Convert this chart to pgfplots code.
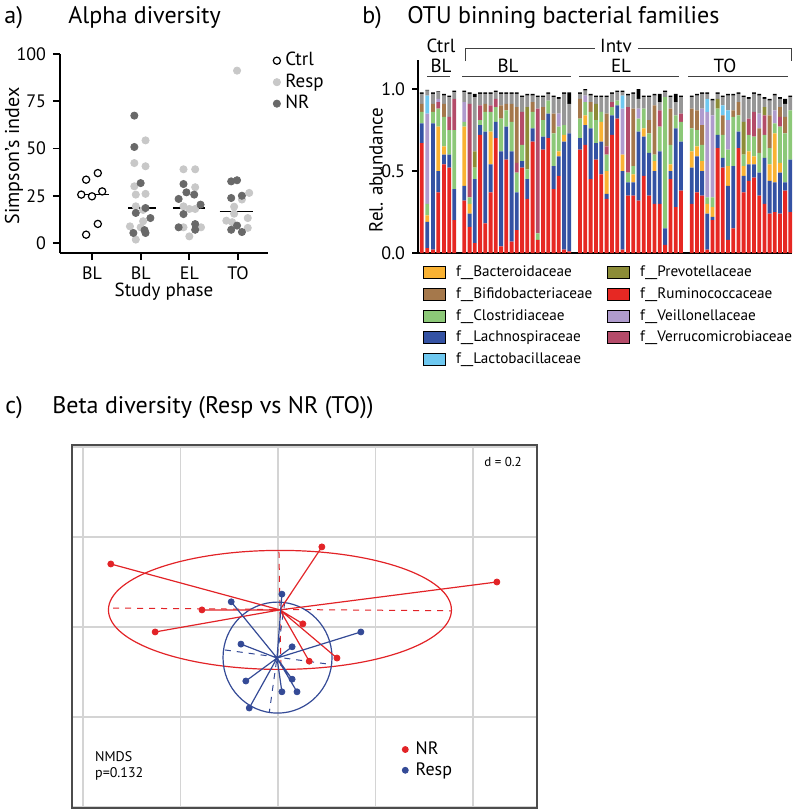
\documentclass[border=0pt]{standalone}
\usepackage{fontspec}
\setmainfont{PT Sans}
\usepackage{pgfplots}
\usepackage{pgfplotstable}
\pgfplotsset{compat=1.18}

\definecolor{cR}{RGB}{230,40,35}
\definecolor{cL}{RGB}{52,82,163}
\definecolor{cB}{RGB}{249,178,51}
\definecolor{cC}{RGB}{140,200,120}
\definecolor{cVe}{RGB}{180,75,105}
\definecolor{cP}{RGB}{140,140,55}
\definecolor{cBi}{RGB}{165,120,75}
\definecolor{cV}{RGB}{175,155,205}
\definecolor{cLb}{RGB}{110,200,240}
\definecolor{cO}{RGB}{150,150,150}
\definecolor{dotLight}{RGB}{200,200,200}
\definecolor{dotDark}{RGB}{105,105,105}
\definecolor{nmR}{RGB}{226,35,39}
\definecolor{nmB}{RGB}{52,74,150}

\pgfplotstableread{
x R L B C Ve P Bi V Lb O K
421.7 0.67 0.12 0.00 0.07 0.00 0.00 0.05 0.00 0.00 0.06 0.01
427.3 0.03 0.16 0.04 0.07 0.00 0.00 0.00 0.55 0.11 0.03 0.005
433.0 0.02 0.77 0.00 0.07 0.00 0.00 0.05 0.00 0.00 0.06 0.01
438.3 0.37 0.13 0.27 0.11 0.04 0.00 0.00 0.02 0.00 0.04 0.005
444.0 0.54 0.06 0.05 0.18 0.00 0.00 0.08 0.00 0.00 0.05 0.01
449.3 0.52 0.08 0.00 0.15 0.08 0.00 0.00 0.00 0.00 0.12 0.01
454.3 0.20 0.19 0.00 0.36 0.19 0.00 0.00 0.00 0.00 0.04 0.01
464.3 0.32 0.09 0.36 0.03 0.00 0.00 0.00 0.12 0.00 0.06 0.01
469.6 0.16 0.08 0.06 0.04 0.57 0.00 0.00 0.00 0.00 0.06 0.01
474.8 0.06 0.39 0.00 0.07 0.00 0.10 0.00 0.00 0.00 0.33 0.02
480.1 0.72 0.06 0.00 0.03 0.09 0.00 0.00 0.00 0.00 0.07 0.01
485.3 0.18 0.56 0.00 0.12 0.00 0.00 0.05 0.00 0.00 0.06 0.01
490.6 0.37 0.17 0.20 0.12 0.04 0.00 0.00 0.00 0.00 0.07 0.01
495.8 0.70 0.10 0.00 0.09 0.05 0.00 0.00 0.00 0.00 0.04 0.01
501.1 0.04 0.58 0.00 0.20 0.00 0.00 0.08 0.00 0.00 0.07 0.01
506.3 0.57 0.20 0.00 0.10 0.00 0.00 0.04 0.00 0.00 0.06 0.01
511.6 0.07 0.55 0.00 0.18 0.00 0.00 0.11 0.00 0.00 0.06 0.01
516.8 0.14 0.23 0.00 0.12 0.06 0.00 0.34 0.00 0.00 0.08 0.01
522.1 0.52 0.04 0.00 0.10 0.20 0.00 0.00 0.00 0.00 0.09 0.01
527.3 0.33 0.12 0.00 0.06 0.00 0.38 0.00 0.00 0.00 0.07 0.01
532.6 0.68 0.08 0.00 0.10 0.00 0.00 0.06 0.00 0.00 0.04 0.01
537.8 0.08 0.00 0.00 0.04 0.76 0.00 0.00 0.00 0.00 0.07 0.01
543.1 0.63 0.08 0.00 0.10 0.00 0.00 0.08 0.00 0.00 0.06 0.01
548.3 0.70 0.15 0.00 0.08 0.00 0.00 0.00 0.00 0.00 0.04 0.01
553.6 0.39 0.14 0.00 0.20 0.00 0.00 0.12 0.00 0.00 0.10 0.01
558.8 0.47 0.12 0.03 0.15 0.00 0.00 0.00 0.08 0.00 0.09 0.01
564.1 0.02 0.66 0.04 0.06 0.00 0.00 0.00 0.00 0.00 0.19 0.01
569.3 0.01 0.72 0.00 0.00 0.00 0.00 0.00 0.00 0.00 0.18 0.07
580.0 0.63 0.07 0.00 0.12 0.00 0.00 0.12 0.00 0.00 0.03 0.01
585.3 0.66 0.12 0.06 0.08 0.00 0.00 0.00 0.04 0.00 0.03 0.01
590.6 0.45 0.31 0.00 0.10 0.00 0.00 0.06 0.00 0.00 0.04 0.01
596.0 0.57 0.10 0.00 0.14 0.00 0.10 0.00 0.00 0.00 0.04 0.01
601.3 0.48 0.20 0.12 0.06 0.00 0.00 0.00 0.00 0.00 0.09 0.01
606.6 0.33 0.03 0.14 0.10 0.05 0.00 0.20 0.00 0.00 0.10 0.01
611.9 0.72 0.12 0.00 0.05 0.03 0.00 0.00 0.00 0.00 0.05 0.01
617.2 0.82 0.08 0.00 0.03 0.00 0.00 0.00 0.00 0.00 0.05 0.01
622.5 0.02 0.48 0.10 0.00 0.00 0.00 0.00 0.28 0.08 0.02 0.01
627.9 0.35 0.08 0.00 0.06 0.40 0.00 0.00 0.00 0.00 0.07 0.01
633.2 0.35 0.08 0.05 0.05 0.00 0.00 0.35 0.00 0.00 0.09 0.01
638.5 0.32 0.42 0.00 0.08 0.00 0.00 0.00 0.06 0.00 0.06 0.06
643.8 0.47 0.24 0.05 0.12 0.00 0.00 0.00 0.00 0.00 0.07 0.01
649.1 0.35 0.26 0.00 0.12 0.00 0.00 0.08 0.00 0.00 0.14 0.01
654.4 0.30 0.20 0.06 0.04 0.00 0.00 0.30 0.00 0.00 0.06 0.01
659.7 0.30 0.32 0.00 0.15 0.10 0.00 0.00 0.00 0.00 0.05 0.05
665.1 0.05 0.10 0.00 0.80 0.00 0.00 0.00 0.00 0.00 0.03 0.01
670.4 0.45 0.05 0.04 0.12 0.00 0.00 0.22 0.00 0.00 0.07 0.01
675.7 0.28 0.48 0.00 0.08 0.00 0.00 0.00 0.00 0.00 0.08 0.05
681.0 0.38 0.30 0.00 0.12 0.05 0.00 0.00 0.00 0.00 0.10 0.01
691.7 0.30 0.22 0.10 0.14 0.00 0.00 0.12 0.00 0.00 0.07 0.01
696.9 0.37 0.22 0.06 0.10 0.00 0.00 0.12 0.00 0.00 0.09 0.01
702.1 0.35 0.15 0.06 0.10 0.00 0.00 0.12 0.10 0.00 0.09 0.01
707.3 0.02 0.22 0.06 0.04 0.00 0.00 0.00 0.52 0.08 0.03 0.01
712.5 0.20 0.02 0.06 0.06 0.00 0.00 0.00 0.50 0.00 0.09 0.01
717.6 0.64 0.08 0.00 0.16 0.00 0.06 0.00 0.00 0.00 0.03 0.01
722.8 0.52 0.06 0.00 0.14 0.00 0.00 0.12 0.00 0.06 0.05 0.01
728.0 0.08 0.33 0.12 0.10 0.00 0.00 0.00 0.18 0.06 0.09 0.01
733.2 0.15 0.38 0.00 0.30 0.00 0.00 0.04 0.00 0.00 0.09 0.01
738.4 0.64 0.10 0.00 0.10 0.00 0.00 0.08 0.00 0.00 0.05 0.01
743.6 0.37 0.10 0.06 0.07 0.00 0.20 0.00 0.00 0.00 0.15 0.01
748.8 0.44 0.10 0.08 0.10 0.10 0.00 0.00 0.00 0.00 0.12 0.01
754.0 0.46 0.08 0.05 0.12 0.15 0.00 0.00 0.00 0.00 0.11 0.01
759.2 0.35 0.14 0.00 0.12 0.00 0.00 0.15 0.09 0.00 0.11 0.01
764.4 0.30 0.28 0.00 0.14 0.12 0.05 0.00 0.00 0.00 0.05 0.01
769.6 0.24 0.20 0.10 0.10 0.00 0.00 0.20 0.00 0.00 0.09 0.01
774.7 0.25 0.18 0.30 0.06 0.00 0.00 0.00 0.08 0.00 0.09 0.01
779.9 0.24 0.25 0.06 0.22 0.06 0.00 0.06 0.00 0.00 0.05 0.01
785.1 0.38 0.05 0.00 0.30 0.00 0.00 0.10 0.00 0.00 0.08 0.03
790.3 0.25 0.32 0.00 0.30 0.00 0.00 0.00 0.00 0.00 0.08 0.01
}\bartab

\newcommand{\ttl}{\fontsize{12}{14}\selectfont}
\newcommand{\lbl}{\fontsize{9.5}{11}\selectfont}
\newcommand{\tck}{\fontsize{9}{10}\selectfont}

\begin{document}
\begin{tikzpicture}
\useasboundingbox (0,0) rectangle (400pt,-405pt);

% ---------------- panel a
\begin{axis}[
  at={(30pt,-126.5pt)}, anchor=south west, scale only axis,
  width=104pt, height=99.5pt,
  xmin=-0.657, xmax=3.616, ymin=-5.3, ymax=100,
  axis x line=bottom, axis y line=left,
  axis line style={-, line width=1pt},
  xtick={0,1,2,3}, xticklabels={BL,BL,EL,TO},
  ytick={0,25,50,75,100},
  tick align=outside, major tick length=3.5pt,
  tick style={black, line width=0.9pt},
  tick label style={font=\tck},
  /pgf/number format/assume math mode=true,
  clip=false,
  legend style={at={(1.01,1.03)}, anchor=north west, draw=none, fill=none,
    font=\lbl, inner sep=0pt, row sep=-1.5pt},
  legend cell align=left,
  legend image code/.code={\draw[#1] plot coordinates {(3pt,0pt)}; \path (0pt,0pt) (5pt,0pt);},
]
\addplot[only marks, mark=*, mark size=1.8pt, mark options={fill=white, draw=black, line width=0.6pt}]
  coordinates {(-0.12,33.5) (0.12,37.0) (-0.22,25.6) (0,24.7) (0.21,27.3) (-0.12,4.4) (0.12,10.1)};
\addlegendentry{Ctrl}
\addplot[only marks, mark=*, mark size=1.8pt, color=dotLight]
  coordinates {(1.10,54.3) (0.87,42.3) (1.10,40.6) (0.87,30.0) (0.90,25.6) (1.10,26.0) (0.90,19.4) (1.05,17.5) (1.05,11.5) (0.78,8.8) (1.00,8.3) (0.90,1.8)
   (1.88,39.0) (2.12,39.0) (2.12,29.5) (1.88,19.4) (2.00,18.0) (2.12,18.0) (1.88,8.3) (2.24,8.3) (2.00,3.5)
   (2.98,91.2) (2.92,19.2) (3.23,26.5) (3.08,23.0) (2.76,11.8) (2.88,11.0) (3.20,13.2) (3.20,8.0) (2.92,15.5)};
\addlegendentry{Resp}
\addplot[only marks, mark=*, mark size=1.8pt, color=dotDark]
  coordinates {(0.87,67.4) (0.87,50.8) (1.00,31.7) (1.10,18.5) (0.90,15.9) (1.20,13.2) (0.85,5.3) (1.10,5.3) (1.08,6.8)
   (1.88,31.2) (1.94,26.8) (2.10,25.6) (1.78,23.3) (2.23,20.3) (1.88,15.3) (1.78,8.3) (2.12,10.0) (2.12,7.0)
   (2.86,32.6) (2.98,33.2) (2.86,23.8) (3.08,25.0) (2.98,9.2) (2.86,7.0) (3.08,5.8)};
\addlegendentry{NR}
\addplot[black, line width=0.6pt, forget plot] coordinates {(-0.31,25.6) (0.34,25.6)};
\addplot[black, line width=0.6pt, forget plot] coordinates {(0.75,18.5) (1.31,18.5)};
\addplot[black, line width=0.6pt, forget plot] coordinates {(1.66,18.5) (2.32,18.5)};
\addplot[black, line width=0.6pt, forget plot] coordinates {(2.62,16.6) (3.31,16.6)};
\end{axis}

% ---------------- panel b bars
\begin{axis}[
  at={(209pt,-126.5pt)}, anchor=south west, scale only axis,
  width=187pt, height=96.5pt,
  xmin=418, xmax=792, ymin=0, ymax=1.177,
  ybar stacked, bar width=3.8,
  axis x line=bottom, axis y line=left,
  axis line style={-, line width=0.9pt},
  xtick=\empty, ytick={0,0.5,1}, yticklabels={0.0,0.5,1.0},
  tick align=outside, major tick length=3pt,
  tick style={black, line width=0.9pt},
  tick label style={font=\tck},
]
\addplot[fill=cR, draw=none] table[x=x, y=R] {\bartab};
\addplot[fill=cL, draw=none] table[x=x, y=L] {\bartab};
\addplot[fill=cB, draw=none] table[x=x, y=B] {\bartab};
\addplot[fill=cC, draw=none] table[x=x, y=C] {\bartab};
\addplot[fill=cVe, draw=none] table[x=x, y=Ve] {\bartab};
\addplot[fill=cP, draw=none] table[x=x, y=P] {\bartab};
\addplot[fill=cBi, draw=none] table[x=x, y=Bi] {\bartab};
\addplot[fill=cV, draw=none] table[x=x, y=V] {\bartab};
\addplot[fill=cLb, draw=none] table[x=x, y=Lb] {\bartab};
\addplot[fill=cO, draw=none] table[x=x, y=O] {\bartab};
\addplot[fill=black, draw=none] table[x=x, y=K] {\bartab};
\end{axis}

% ---------------- panel b legend (empty axis)
\begin{axis}[
  at={(209pt,-126.5pt)}, anchor=south west, scale only axis,
  width=187pt, height=96.5pt,
  xmin=0, xmax=1, ymin=0, ymax=1, hide axis,
  legend columns=2,
  legend style={at={(0.013,-0.051)}, anchor=north west, draw=none, fill=none,
    font=\fontsize{7.6}{9}\selectfont, inner sep=0pt, row sep=1.2pt,
    nodes={inner xsep=5pt, inner ysep=1pt, text height=5.8pt, text depth=1.8pt},
    /tikz/every even column/.append style={column sep=2.5pt}},
  legend cell align=left,
  legend image code/.code={\fill[#1] (0pt,-3pt) rectangle (11pt,3pt);},
]
\addlegendimage{fill=cB}\addlegendentry{f\_\_Bacteroidaceae}
\addlegendimage{fill=cP}\addlegendentry{f\_\_Prevotellaceae}
\addlegendimage{fill=cBi}\addlegendentry{f\_\_Bifidobacteriaceae}
\addlegendimage{fill=cR}\addlegendentry{f\_\_Ruminococcaceae}
\addlegendimage{fill=cC}\addlegendentry{f\_\_Clostridiaceae}
\addlegendimage{fill=cV}\addlegendentry{f\_\_Veillonellaceae}
\addlegendimage{fill=cL}\addlegendentry{f\_\_Lachnospiraceae}
\addlegendimage{fill=cVe}\addlegendentry{f\_\_Verrucomicrobiaceae}
\addlegendimage{fill=cLb}\addlegendentry{f\_\_Lactobacillaceae}
\end{axis}

% ---------------- panel c
\begin{axis}[
  at={(36pt,-404pt)}, anchor=south west, scale only axis,
  width=232.5pt, height=181.5pt,
  xmin=-0.4226, xmax=0.5313, ymin=-0.4022, ymax=0.4044,
  xtick={-0.4,-0.2,0,0.2,0.4}, ytick={-0.4,-0.2,0,0.2,0.4},
  xticklabels={}, yticklabels={}, major tick length=0pt,
  grid=major, grid style={line width=0.6pt, color=black!17},
  axis line style={line width=0.8pt, color=black!70},
  unbounded coords=jump,
  legend style={at={(0.70,0.195)}, anchor=north west, draw=none, fill=none,
    font=\fontsize{9}{10}\selectfont, inner sep=0pt, row sep=-1.5pt},
  legend cell align=left,
  legend image code/.code={\draw[#1] plot coordinates {(3.5pt,0pt)}; \path (0pt,0pt) (6.5pt,0pt);},
]
\addlegendimage{only marks, mark=*, mark size=1.5pt, color=nmR}\addlegendentry{NR}
\addlegendimage{only marks, mark=*, mark size=1.5pt, color=nmB}\addlegendentry{Resp}
% dashed axes
\addplot[nmR, dashed, line width=0.5pt, forget plot] coordinates {(-0.338,0.042) (0.355,0.036)};
\addplot[nmR, dashed, line width=0.5pt, forget plot] coordinates {(0.002,0.167) (0.006,-0.096)};
\addplot[nmB, dashed, line width=0.5pt, forget plot] coordinates {(-0.109,-0.051) (0.100,-0.082)};
\addplot[nmB, dashed, line width=0.5pt, forget plot] coordinates {(0.014,0.056) (-0.018,-0.191)};
% ellipses
\draw[nmR, line width=0.6pt] (axis cs:0.004,0.038) ellipse [x radius=85.75pt, y radius=29.75pt];
\draw[nmB, line width=0.6pt] (axis cs:-0.001,-0.068) ellipse [x radius=27.25pt, y radius=27.75pt];
% spiders
\addplot[nmR, line width=0.6pt, forget plot] coordinates {
 (-0.343,0.140) (0.004,0.038) (nan,nan)
 (0.090,0.178) (0.004,0.038) (nan,nan)
 (0.449,0.100) (0.004,0.038) (nan,nan)
 (-0.156,0.038) (0.004,0.038) (nan,nan)
 (-0.252,-0.011) (0.004,0.038) (nan,nan)
 (0.051,0.007) (0.004,0.038) (nan,nan)
 (0.064,-0.076) (0.004,0.038) (nan,nan)
 (0.121,-0.069) (0.004,0.038)};
\addplot[nmB, line width=0.6pt, forget plot] coordinates {
 (0.008,0.073) (-0.002,-0.069) (nan,nan)
 (-0.096,0.056) (-0.002,-0.069) (nan,nan)
 (-0.076,-0.038) (-0.002,-0.069) (nan,nan)
 (0.029,-0.044) (-0.002,-0.069) (nan,nan)
 (0.170,-0.011) (-0.002,-0.069) (nan,nan)
 (-0.066,-0.120) (-0.002,-0.069) (nan,nan)
 (0.029,-0.116) (-0.002,-0.069) (nan,nan)
 (0.008,-0.144) (-0.002,-0.069) (nan,nan)
 (0.039,-0.144) (-0.002,-0.069) (nan,nan)
 (-0.059,-0.180) (-0.002,-0.069)};
\addplot[only marks, mark=*, mark size=1.5pt, color=nmR, forget plot] coordinates {
 (-0.343,0.140) (0.090,0.178) (0.449,0.100) (-0.156,0.038) (-0.252,-0.011) (0.051,0.007) (0.064,-0.076) (0.121,-0.069)};
\addplot[only marks, mark=*, mark size=1.5pt, color=nmB, forget plot] coordinates {
 (0.008,0.073) (-0.096,0.056) (-0.076,-0.038) (0.029,-0.044) (0.170,-0.011) (-0.066,-0.120) (0.029,-0.116) (0.008,-0.144) (0.039,-0.144) (-0.059,-0.180)};
\node[font=\fontsize{6.5}{8}\selectfont] at (rel axis cs:0.927,0.953) {d = 0.2};
\node[anchor=west, align=left, font=\fontsize{7}{8}\selectfont, inner sep=0pt] at (rel axis cs:0.049,0.116) {NMDS\\p=0.132};
\end{axis}

% ---------------- annotations
\begin{scope}[x=0.5pt, y=-0.5pt]
\node[anchor=base west, inner sep=0pt, font=\ttl] at (4,23) {a)};
\node[anchor=base west, inner sep=0pt, font=\ttl] at (68,23) {Alpha diversity};
\node[anchor=base west, inner sep=0pt, font=\ttl] at (362,23) {b)};
\node[anchor=base west, inner sep=0pt, font=\ttl] at (407,23) {OTU binning bacterial families};
\node[anchor=base west, inner sep=0pt, font=\ttl] at (5,413) {c)};
\node[anchor=base west, inner sep=0pt, font=\ttl] at (52,413) {Beta diversity (Resp vs NR (TO))};
\node[rotate=90, font=\fontsize{10}{11}\selectfont] at (14,156) {Simpson’s index};
\node[font=\lbl] at (164,292) {Study phase};
\node[rotate=90, font=\lbl] at (376,170) {Rel. abundance};
% bar group labels
\node[font=\lbl] at (441,46) {Ctrl};
\node[font=\lbl] at (441,66) {BL};
\node[font=\lbl] at (616,46) {Intv};
\node[font=\lbl] at (508,66) {BL};
\node[font=\lbl] at (621,66) {EL};
\node[font=\lbl] at (725,66) {TO};
\draw[black!75, line width=0.5pt] (427,76.5) -- (450,76.5);
\draw[black!75, line width=0.5pt] (462,76.5) -- (571,76.5);
\draw[black!75, line width=0.5pt] (579,76.5) -- (679,76.5);
\draw[black!75, line width=0.5pt] (688,76.5) -- (788,76.5);
\draw[black!75, line width=0.5pt] (465,61) -- (465,48) -- (595,48);
\draw[black!75, line width=0.5pt] (638,48) -- (791,48) -- (791,61);
\end{scope}
\end{tikzpicture}
\end{document}
